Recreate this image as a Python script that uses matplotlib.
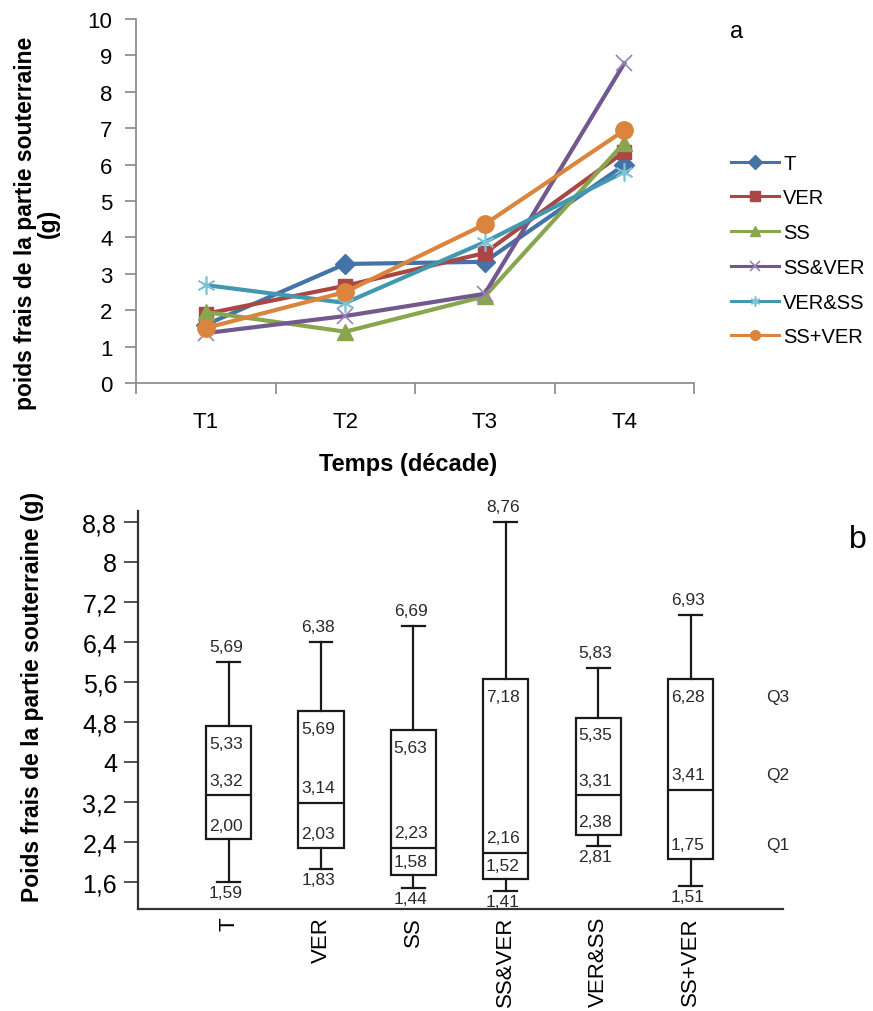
import numpy as np
import matplotlib
matplotlib.use("Agg")
import matplotlib.pyplot as plt

plt.rcParams['font.family'] = ['Liberation Sans', 'DejaVu Sans']

# --- donnees graphique a (evolution par decade) ---
temps = ["T1", "T2", "T3", "T4"]
series_noms = ["T", "VER", "SS", "SS&VER", "VER&SS", "SS+VER"]
val_T = [1.60, 3.27, 3.33, 5.99]
val_VER = [1.90, 2.67, 3.57, 6.35]
val_SS = [1.95, 1.41, 2.38, 6.60]
val_SSetVER = [1.37, 1.84, 2.45, 8.78]
val_VERetSS = [2.69, 2.20, 3.87, 5.80]
val_SSplusVER = [1.51, 2.50, 4.36, 6.94]

# --- donnees graphique b (boites) ---
groupes = ["T", "VER", "SS", "SS&VER", "VER&SS", "SS+VER"]
bas = [1.61, 1.87, 1.49, 1.43, 2.33, 1.53]
q1 = [2.46, 2.29, 1.74, 1.66, 2.54, 2.07]
mediane = [3.34, 3.18, 2.29, 2.19, 3.34, 3.44]
q3 = [4.72, 5.02, 4.64, 5.66, 4.89, 5.66]
haut = [6.00, 6.41, 6.72, 8.80, 5.88, 6.94]
lbl_haut = ["5,69", "6,38", "6,69", "8,76", "5,83", "6,93"]
lbl_q3 = ["5,33", "5,69", "5,63", "7,18", "5,35", "6,28"]
lbl_med = ["3,32", "3,14", "2,23", "2,16", "3,31", "3,41"]
lbl_q1 = ["2,00", "2,03", "1,58", "1,52", "2,38", "1,75"]
lbl_bas = ["1,59", "1,83", "1,44", "1,41", "2,81", "1,51"]

fig = plt.figure(figsize=(8.73, 10.12), dpi=100)

# ================= graphique a =================
ax1 = fig.add_axes([136/873, 1-384/1012, (694-136)/873, 364/1012])
couleurs = ["#4572A7", "#AA4643", "#89A54E", "#71588F", "#4198AF", "#DB843D"]
marqueurs = ["D", "s", "^", "x", (6, 2, 0), "o"]
tailles = [10, 10, 11, 12, 13, 12.5]
donnees = [val_T, val_VER, val_SS, val_SSetVER, val_VERetSS, val_SSplusVER]
x = np.arange(1, len(temps) + 1)
for nom, vals, c, m, s in zip(series_noms, donnees, couleurs, marqueurs, tailles):
    if m in ["x", (6, 2, 0)]:
        mc = {"x": "#9985b5", (6, 2, 0): "#7cc3d6"}[m]
        ax1.plot(x, vals, color=c, lw=3, marker=m, ms=s, mec=mc, mew=1.2, label=nom)
    else:
        ax1.plot(x, vals, color=c, lw=3, marker=m, ms=s, mec=c, label=nom)

ax1.set_xlim(0.5, 4.5)
ax1.set_ylim(0, 10)
ax1.set_yticks(range(0, 11))
ax1.set_xticks(x)
ax1.set_xticklabels(temps)
ax1.set_xticks(np.arange(0.5, 4.6, 1), minor=True)
ax1.tick_params(axis='x', which='major', length=0, pad=20, labelsize=16)
ax1.tick_params(axis='x', which='minor', length=8, color="#888888", width=1.2)
ax1.tick_params(axis='y', length=8, color="#888888", width=1.2, labelsize=16, pad=9)
for sp in ["top", "right"]:
    ax1.spines[sp].set_visible(False)
for sp in ["left", "bottom"]:
    ax1.spines[sp].set_color("#888888")
    ax1.spines[sp].set_linewidth(1.2)

fig.text(408/873, 1-465/1012, "Temps (décade)", ha="center", va="center",
         fontsize=17, fontweight="bold")
fig.text(37/873, 1-223/1012, "poids frais de la partie souterraine\n(g)", rotation=90,
         ha="center", va="center", fontsize=16.5, fontweight="bold",
         multialignment="center", linespacing=1.0)
fig.text(730/873, 1-32/1012, "a", ha="left", va="center", fontsize=17)

leg = ax1.legend(loc="center left", bbox_to_anchor=(731/873, 1-251/1012),
                 bbox_transform=fig.transFigure, frameon=False, fontsize=14.5,
                 handlelength=2.4, handletextpad=0.2, labelspacing=0.78,
                 borderpad=0, borderaxespad=0)
for h in leg.get_lines():
    h.set_markersize(7)
    h.set_linewidth(2.2)

# ================= graphique b =================
ax2 = fig.add_axes([138/873, 1-910/1012, (783-138)/873, (910-512)/1012])
stats = []
for i in range(len(groupes)):
    stats.append({"whislo": bas[i], "q1": q1[i], "med": mediane[i],
                  "q3": q3[i], "whishi": haut[i], "fliers": [], "label": groupes[i]})
pos = np.arange(1, len(groupes) + 1)
ax2.bxp(stats, positions=pos, widths=0.49, showfliers=False, patch_artist=True,
        boxprops=dict(facecolor="white", edgecolor="#1a1a1a", linewidth=1.6),
        medianprops=dict(color="#1a1a1a", linewidth=1.6),
        whiskerprops=dict(color="#1a1a1a", linewidth=1.6),
        capprops=dict(color="#1a1a1a", linewidth=1.6))

ax2.set_xlim(0.02, 7.0)
ax2.set_ylim(1.06, 9.02)
yt = np.round(np.arange(1.6, 8.81, 0.8), 1)
ax2.set_yticks(yt)
ax2.set_yticklabels(["{:g}".format(v).replace(".", ",") for v in yt])
ax2.set_xticks(pos)
ax2.set_xticklabels(groupes, rotation=90, va="top", ha="center")
ax2.tick_params(axis='x', length=0, pad=5, labelsize=16)
ax2.tick_params(axis='y', length=10, width=1.2, labelsize=18, color="#333333", pad=5)
for sp in ["top", "right"]:
    ax2.spines[sp].set_visible(False)
for sp in ["left", "bottom"]:
    ax2.spines[sp].set_linewidth(1.6)
    ax2.spines[sp].set_color("#333333")

coul_txt = "#2a2a2a"
ft = 12.5
for i, p in enumerate(pos):
    xt = p - 0.03
    ax2.text(xt, haut[i] + 0.3, lbl_haut[i], ha="center", va="center", fontsize=ft, color=coul_txt)
    ax2.text(xt, q3[i] - 0.35, lbl_q3[i], ha="center", va="center", fontsize=ft, color=coul_txt)
    ax2.text(xt, mediane[i] + 0.3, lbl_med[i], ha="center", va="center", fontsize=ft, color=coul_txt)
    ax2.text(xt, q1[i] + 0.27, lbl_q1[i], ha="center", va="center", fontsize=ft, color=coul_txt)
    ax2.text(xt, bas[i] - 0.22, lbl_bas[i], ha="center", va="center", fontsize=ft, color=coul_txt)

# reperes Q3 / Q2 / Q1 alignes sur la derniere boite
ax2.text(6.94, q3[-1] - 0.35, "Q3", ha="center", va="center", fontsize=ft, color=coul_txt)
ax2.text(6.94, mediane[-1] + 0.3, "Q2", ha="center", va="center", fontsize=ft, color=coul_txt)
ax2.text(6.94, q1[-1] + 0.27, "Q1", ha="center", va="center", fontsize=ft, color=coul_txt)

fig.text(33/873, 1-697/1012, "Poids frais de la partie souterraine (g)", rotation=90,
         ha="center", va="center", fontsize=16.5, fontweight="bold")
fig.text(858/873, 1-540/1012, "b", ha="center", va="center", fontsize=23)

fig.savefig("out.png", dpi=100)
